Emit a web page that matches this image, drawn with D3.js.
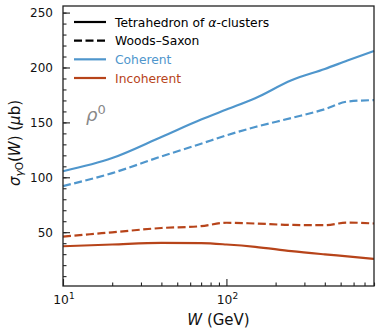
<!DOCTYPE html>
<html>
<head>
<meta charset="utf-8">
<script src="https://cdn.jsdelivr.net/npm/d3@7"></script>
<style>
  body { margin: 0; background: #fff; }
  text { font-family: "DejaVu Sans", sans-serif; }
</style>
</head>
<body>
<div id="chart"></div>
<script>
// values (W in GeV, sigma in microbarn)
const energies   = [10, 20, 40, 70, 100, 150, 250, 400, 550, 800]
const cohTetra   = [105.5, 117.5, 136.7, 152.6, 161.7, 172, 188.4, 198.7, 206.3, 215]
const cohWS      = [92, 103.8, 119, 130.6, 138.2, 145.8, 154, 162, 169, 170.3]
const incohTetra = [37.2, 38.8, 40.3, 40, 38.8, 36.7, 32.7, 29.8, 28, 25.7]
const incohWS    = [46, 49.9, 53.8, 55.5, 58.6, 57.9, 56.6, 56.4, 58.8, 57.9]

const yMajor = [50, 100, 150, 200, 250]
const yMinor = d3.range(10, 251, 10)
const xMajor = [10, 100]
const xMinor = [20, 30, 40, 50, 60, 70, 80, 90, 200, 300, 400, 500, 600, 700, 800]

const blue = '#4f96cc', red = '#b7441a'

const legendItems = [
  {label: 'Tetrahedron of ', greek: 'α', rest: '-clusters', color: '#000', dash: null, textColor: '#000'},
  {label: 'Woods–Saxon', color: '#000', dash: '8,3.5', textColor: '#000'},
  {label: 'Coherent', color: blue, dash: null, textColor: blue},
  {label: 'Incoherent', color: red, dash: null, textColor: red}
]

const series = [
  {vals: cohTetra, color: blue, dash: null},
  {vals: cohWS, color: blue, dash: '8,3.5'},
  {vals: incohTetra, color: red, dash: null},
  {vals: incohWS, color: red, dash: '8,3.5'}
]

const W = 380, H = 336
const mLeft = 63, mRight = 374, mTop = 6, mBottom = 286

const svg = d3.select('#chart').append('svg')
  .attr('width', W).attr('height', H)

const x = d3.scaleLog().domain([10, 800]).range([mLeft, mRight])
const y = d3.scaleLinear().domain([1, 256]).range([mBottom, mTop])

// lines
const line = d3.line()
  .x(d => x(d[0]))
  .y(d => y(d[1]))
  .curve(d3.curveMonotoneX)

const plot = svg.append('g')
series.forEach(s => {
  plot.append('path')
    .datum(energies.map((e, i) => [e, s.vals[i]]))
    .attr('d', line)
    .attr('fill', 'none')
    .attr('stroke', s.color)
    .attr('stroke-width', 2.2)
    .attr('stroke-dasharray', s.dash)
})

// axes with inward ticks
const yAxisMinor = d3.axisLeft(y).tickValues(yMinor).tickSize(-3.5).tickFormat('')
const yAxisMajor = d3.axisLeft(y).tickValues(yMajor).tickSize(-7).tickFormat(d3.format('d'))
const xAxisMinor = d3.axisBottom(x).tickValues(xMinor).tickSize(-3.5).tickFormat('')
const xAxisMajor = d3.axisBottom(x).tickValues(xMajor).tickSize(-7).tickFormat('')

svg.append('g').attr('transform', `translate(${mLeft},0)`).call(yAxisMinor)
const ya = svg.append('g').attr('transform', `translate(${mLeft},0)`).call(yAxisMajor)
svg.append('g').attr('transform', `translate(0,${mBottom})`).call(xAxisMinor)
svg.append('g').attr('transform', `translate(0,${mBottom})`).call(xAxisMajor)
svg.selectAll('.domain').remove()
svg.selectAll('.tick line').attr('stroke', '#222').attr('stroke-width', 1.1)
ya.selectAll('text').attr('font-size', 12).attr('fill', '#111')
  .attr('font-family', '"DejaVu Sans", sans-serif')
  .attr('x', -10)

// x tick labels 10^n
xMajor.forEach(v => {
  const t = svg.append('text')
    .attr('x', x(v) + 1).attr('y', 304)
    .attr('text-anchor', 'middle')
    .attr('font-size', 12.3).attr('fill', '#111')
  t.append('tspan').text('10')
  t.append('tspan').attr('dy', -5.5).attr('font-size', 9).text(Math.round(Math.log10(v)))
})

// frame
svg.append('rect')
  .attr('x', mLeft).attr('y', mTop)
  .attr('width', mRight - mLeft).attr('height', mBottom - mTop)
  .attr('fill', 'none').attr('stroke', '#222').attr('stroke-width', 1.3)

// axis labels
const xl = svg.append('text')
  .attr('x', (mLeft + mRight) / 2).attr('y', 325)
  .attr('text-anchor', 'middle').attr('font-size', 15).attr('fill', '#111')
xl.append('tspan').attr('font-style', 'italic').text('W')
xl.append('tspan').text(' (GeV)')

const yl = svg.append('text')
  .attr('transform', `translate(20,${(mTop + mBottom) / 2 - 3}) rotate(-90)`)
  .attr('text-anchor', 'middle').attr('font-size', 15).attr('fill', '#111')
yl.append('tspan').attr('font-style', 'italic').text('σ')
yl.append('tspan').attr('font-size', 10.5).attr('dy', 3).attr('font-style', 'italic').text('γ')
yl.append('tspan').attr('font-size', 10.5).text('O')
yl.append('tspan').attr('dy', -3).text('(')
yl.append('tspan').attr('font-style', 'italic').text('W')
yl.append('tspan').text(') (')
yl.append('tspan').attr('font-style', 'italic').text('μ')
yl.append('tspan').text('b)')

// rho label
const rho = svg.append('text')
  .attr('x', 86).attr('y', 121)
  .attr('font-size', 18).attr('fill', '#888')
rho.append('tspan').attr('font-style', 'italic').text('ρ')
rho.append('tspan').attr('dy', -7).attr('font-size', 13).text('0')

// legend
const legY = d3.scalePoint().domain(d3.range(legendItems.length)).range([22, 78])
const leg = svg.append('g')
legendItems.forEach((d, i) => {
  const g = leg.append('g').attr('transform', `translate(0,${legY(i)})`)
  g.append('line')
    .attr('x1', 74).attr('x2', 106)
    .attr('stroke', d.color).attr('stroke-width', 2.2)
    .attr('stroke-dasharray', d.dash)
  const t = g.append('text').attr('x', 115).attr('y', 4.5)
    .attr('font-size', 12.3).attr('fill', d.textColor)
  t.append('tspan').text(d.label)
  if (d.greek) {
    t.append('tspan').attr('font-style', 'italic').text(d.greek)
    t.append('tspan').text(d.rest)
  }
})
</script>
</body>
</html>
